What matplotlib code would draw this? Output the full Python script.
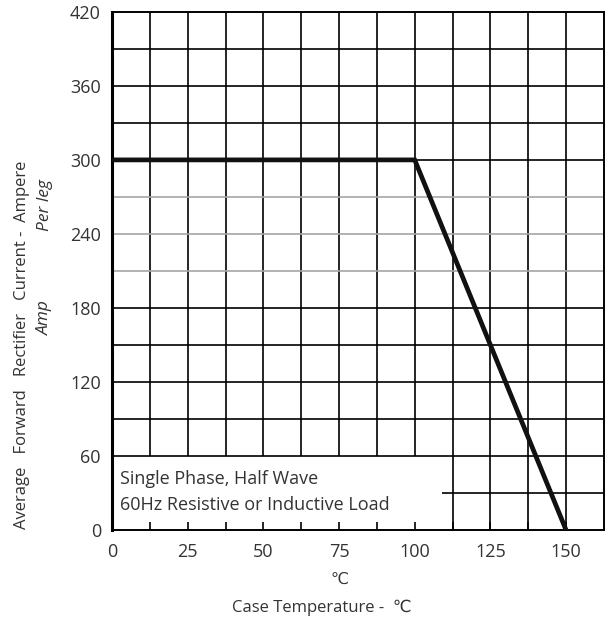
import matplotlib
matplotlib.use("Agg")
import matplotlib.pyplot as plt
import numpy as np

# Derating curve: case temperature vs. average forward current
case_temp = [0, 100, 150]
current = [300, 300, 0]

x_ticks = [0, 25, 50, 75, 100, 125, 150]
y_ticks = [0, 60, 120, 180, 240, 300, 360, 420]
gray_rows = [210, 240, 270]

X_MAX = 162.5
Y_MAX = 420
NOTE_RIGHT = 109  # right edge of the note area in the lower left
NOTE_TOP = 60

plt.rcParams["font.family"] = ["Open Sans", "DejaVu Sans"]

fig = plt.figure(figsize=(6.10, 6.27), dpi=100)
ax = fig.add_axes([0.1836, 0.1547, 0.8064, 0.8264])
ax.set_xlim(0, X_MAX)
ax.set_ylim(0, Y_MAX)

# Grid (vertical every 12.5, horizontal every 30), cut out behind the note
for gx in np.arange(12.5, X_MAX, 12.5):
    y0 = NOTE_TOP if gx < NOTE_RIGHT else 0
    ax.vlines(gx, y0, Y_MAX, color="black", lw=1.2, zorder=1)
for gy in np.arange(30, Y_MAX, 30):
    x0 = NOTE_RIGHT if gy < NOTE_TOP else 0
    col = "#a6a6a6" if gy in gray_rows else "black"
    ax.hlines(gy, x0, X_MAX, color=col, lw=1.2, zorder=1)

ax.plot(case_temp, current, color="#111111", lw=3.4, solid_joinstyle="miter", zorder=3)

ax.text(2.5, 31, "Single Phase, Half Wave\n60Hz Resistive or Inductive Load",
        fontsize=13, color="#333333", va="center", ha="left", linespacing=1.55)

for side, sp in ax.spines.items():
    sp.set_color("black")
    sp.set_linewidth(1.4)
ax.spines["left"].set_linewidth(2.2)

ax.set_xticks(x_ticks)
ax.set_xticks(np.arange(12.5, X_MAX, 12.5), minor=True)
ax.set_yticks(y_ticks)
ax.tick_params(axis="x", which="both", direction="in", length=6, width=1.2,
               color="black", labelsize=13, labelcolor="#333333", pad=9)
ax.tick_params(axis="y", length=0, labelsize=13, labelcolor="#333333", pad=8)

# Axis titles
fig.text(0.557, 0.075, "\u2103", ha="center", va="center", fontsize=11.5, color="#333333")
fig.text(0.527, 0.030, "Case Temperature -  \u2103", ha="center", va="center",
         fontsize=12, color="#333333")
fig.text(0.036, 0.45, "Average   Forward   Rectifier   Current -  Ampere",
         rotation=90, ha="center", va="center", fontsize=12, color="#333333")
fig.text(0.074, 0.493, "Amp", rotation=90, ha="center", va="center",
         fontsize=12.5, color="#333333", style="italic")
fig.text(0.074, 0.673, "Per leg", rotation=90, ha="center", va="center",
         fontsize=12.5, color="#333333", style="italic")

fig.savefig("out.png", dpi=100, facecolor="white")
